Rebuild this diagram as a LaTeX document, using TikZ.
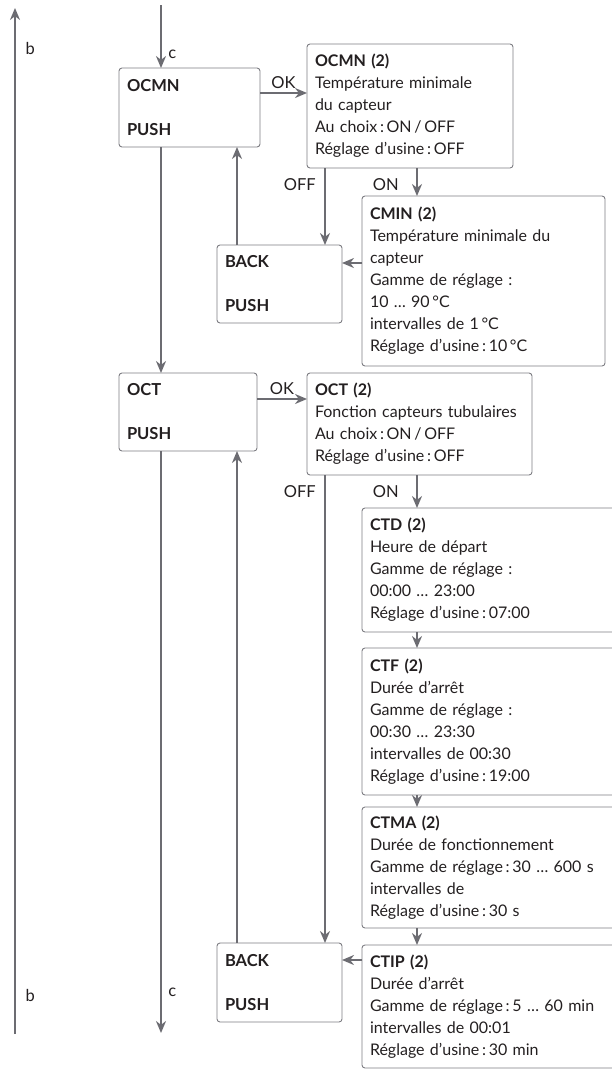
\documentclass[tikz,border=0pt]{standalone}
\usepackage{fontspec}
\setmainfont{Lato}
\usetikzlibrary{arrows.meta}

\definecolor{linegray}{RGB}{108,108,114}
\definecolor{boxgray}{RGB}{125,125,130}
\definecolor{textdark}{RGB}{35,31,32}

\tikzset{
  menu/.style={draw=boxgray, line width=0.9pt, rounded corners=3pt,
    anchor=north west, align=left, inner xsep=8pt, outer sep=0pt,
    text=textdark, font=\fontsize{16.5}{22}\selectfont\bfseries},
  info/.style={draw=boxgray, line width=0.9pt, rounded corners=3pt,
    anchor=north west, align=left, inner xsep=8pt, outer sep=0pt,
    text=textdark, font=\fontsize{16}{22}\selectfont},
  flow/.style={draw=linegray, line width=2pt,
    -{Stealth[length=12pt,width=10pt]}},
  lbl/.style={text=textdark, font=\fontsize{16.5}{22}\selectfont},
}

\begin{document}
\begin{tikzpicture}[x=1pt,y=-1pt]
    \useasboundingbox (0,0) rectangle (611,1071);

    % columns of the connectors
    \coordinate (colb) at (15,0);
    \coordinate (colc) at (161,0);
    \coordinate (colback) at (237,0);
    \coordinate (coloff) at (325,0);
    \coordinate (colon) at (417,0);

    % menu entries
    \node[menu, text width=125pt, minimum height=79pt] (ocmn) at (119,68)
        {OCMN\\[22pt]PUSH};
    \node[menu, text width=109pt, minimum height=78pt] (back1) at (217,245)
        {BACK\\[22pt]PUSH};
    \node[menu, text width=122pt, minimum height=78pt] (oct) at (119,373)
        {OCT\\[22pt]PUSH};
    \node[menu, text width=109pt, minimum height=79pt] (back2) at (217,943)
        {BACK\\[22pt]PUSH};

    % parameters
    \node[info, text width=190pt, minimum height=124pt] (ocmnset) at (307,44)
        {\textbf{OCMN (2)}\\Température minimale\\du capteur\\
         Au choix\,:\,ON\,/\,OFF\\Réglage d’usine\,:\,OFF};
    \node[info, text width=227pt, minimum height=170pt] (cmin) at (362,196)
        {\textbf{CMIN (2)}\\Température minimale du\\capteur\\
         Gamme de réglage :\\10 … 90\,°C\\intervalles de 1\,°C\\
         Réglage d’usine\,:\,10\,°C};
    \node[info, text width=209pt, minimum height=102pt] (octset) at (307,373)
        {\textbf{OCT (2)}\\Fonction capteurs tubulaires\\
         Au choix\,:\,ON\,/\,OFF\\Réglage d’usine\,:\,OFF};
    \node[info, text width=238pt, minimum height=124pt] (ctd) at (362,508)
        {\textbf{CTD (2)}\\Heure de départ\\Gamme de réglage :\\
         00:00 … 23:00\\Réglage d’usine\,:\,07:00};
    \node[info, text width=238pt, minimum height=147pt] (ctf) at (362,648)
        {\textbf{CTF (2)}\\Durée d’arrêt\\Gamme de réglage :\\
         00:30 … 23:30\\intervalles de 00:30\\Réglage d’usine\,:\,19:00};
    \node[info, text width=238pt, minimum height=121pt] (ctma) at (362,807)
        {\textbf{CTMA (2)}\\Durée de fonctionnement\\
         Gamme de réglage\,:\,30 … 600 s\\intervalles de\\
         Réglage d’usine\,:\,30 s};
    \node[info, text width=238pt, minimum height=123pt] (ctip) at (362,945)
        {\textbf{CTIP (2)}\\Durée d’arrêt\\
         Gamme de réglage\,:\,5 … 60 min\\intervalles de 00:01\\
         Réglage d’usine\,:\,30 min};

    % back loop on the left
    \draw[flow] (colb |- 0,1034) -- (colb |- 0,8);
    \node[lbl, anchor=west] (btop) at (22,48) {b};
    \node[lbl, anchor=west] (bbot) at (22,995) {b};

    % main column
    \draw[flow] (colc |- 0,5) -- (colc |- ocmn.north)
        node[lbl, right=3pt, pos=0.78] (ctop) {c};
    \draw[flow] (colc |- ocmn.south) -- (colc |- oct.north);
    \draw[flow] (colc |- oct.south) -- (colc |- 0,1033)
        node[lbl, right=3pt, pos=0.93] (cbot) {c};

    % OCMN
    \draw[flow] (ocmn.east |- 0,93) -- (ocmnset.west |- 0,93)
        node[lbl, above, midway] (ok1) {OK};
    \draw[flow] (coloff |- ocmnset.south) -- (coloff |- back1.north)
        node[lbl, left=5pt, pos=0.22] (off1) {OFF};
    \draw[flow] (colon |- ocmnset.south) -- (colon |- cmin.north)
        node[lbl, left=14pt, pos=0.6] (on1) {ON};
    \draw[flow] (cmin.west |- 0,263) -- (back1.east |- 0,263);
    \draw[flow] (colback |- back1.north) -- (colback |- ocmn.south);

    % OCT
    \draw[flow] (oct.east |- 0,399) -- (octset.west |- 0,399)
        node[lbl, above, midway] (ok2) {OK};
    \draw[flow] (coloff |- octset.south) -- (coloff |- back2.north)
        node[lbl, left=5pt, pos=0.036] (off2) {OFF};
    \draw[flow] (colon |- octset.south) -- (colon |- ctd.north)
        node[lbl, left=14pt, pos=0.5] (on2) {ON};
    \draw[flow] (colon |- ctd.south) -- (colon |- ctf.north);
    \draw[flow] (colon |- ctf.south) -- (colon |- ctma.north);
    \draw[flow] (colon |- ctma.south) -- (colon |- ctip.north);
    \draw[flow] (ctip.west |- 0,960) -- (back2.east |- 0,960);
    \draw[flow] (colback |- back2.north) -- (colback |- oct.south);
\end{tikzpicture}
\end{document}
